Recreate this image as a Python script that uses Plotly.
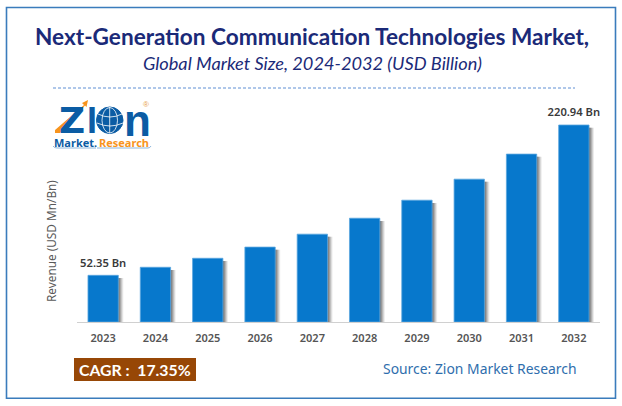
import plotly.graph_objects as go

W, H = 622, 406
years = ["2023","2024","2025","2026","2027","2028","2029","2030","2031","2032"]
revenue = [52.35, 61.4, 71.5, 84.0, 98.5, 116.4, 136.6, 160.2, 188.3, 220.94]
value_labels = ["52.35 Bn","","","","","","","","","220.94 Bn"]
axis_title = "Revenue (USD Mn/Bn)"
title_main = "Next-Generation Communication Technologies Market,"
title_sub = "Global Market Size, 2024-2032 (USD Billion)"
source_text = "Source: Zion Market Research"
cagr_text = "CAGR :  17.35%"

px = lambda x: x / W
py = lambda y: 1 - y / H

BLUE = "#0778CC"
NAVY = "#1B2A78"
LOGO = "#0B5CA4"
ORANGE = "#F7941D"

fig = go.Figure()
# soft drop shadow: layered translucent bars displaced to the right
for off, op in [(5.0, 0.10), (4.0, 0.16), (3.0, 0.22), (2.0, 0.28), (1.0, 0.30)]:
    fig.add_trace(go.Bar(
        x=years, y=[v - 3.0 for v in revenue],
        width=0.58, offset=-0.29 + off / 52.33,
        marker=dict(color=f"rgba(70,70,70,{op})", line_width=0),
        hoverinfo="skip", showlegend=False))
fig.add_trace(go.Bar(
    x=years, y=revenue, width=0.58, offset=-0.29,
    marker=dict(color=BLUE, line=dict(color="#5AA6DE", width=0.8)),
    showlegend=False))
fig.add_trace(go.Scatter(
    x=years, y=revenue, mode="markers+text", text=value_labels, textposition="top center",
    marker=dict(size=8, opacity=0), cliponaxis=False, hoverinfo="skip", showlegend=False,
    textfont=dict(family="Noto Sans", size=11.2, color="#3A3A3A", weight=600)))

shapes = [
    dict(type="rect", xref="paper", yref="paper", x0=px(6.5), x1=px(615.5), y0=py(398.3), y1=py(7.5),
         line=dict(color="#3A7CBC", width=1.6), fillcolor="rgba(0,0,0,0)", layer="below"),
    dict(type="line", xref="paper", yref="paper", x0=px(53), x1=px(575), y0=py(88), y1=py(88),
         line=dict(color="#5F8FD4", width=1, dash="3px,2px")),
    dict(type="rect", xref="paper", yref="paper", x0=px(74), x1=px(196), y0=py(381), y1=py(358),
         fillcolor="#974706", line_width=0),
    # logo globe
    dict(type="circle", xref="paper", yref="paper", x0=px(96.5), x1=px(123), y0=py(133.5), y1=py(107),
         fillcolor=LOGO, line=dict(color=LOGO, width=1)),
    dict(type="circle", xref="paper", yref="paper", x0=px(102), x1=px(117.5), y0=py(133), y1=py(107.5),
         fillcolor="rgba(0,0,0,0)", line=dict(color="white", width=0.8)),
    dict(type="path", xref="paper", yref="paper",
         path=f"M {px(98)} {py(114)} Q {px(110)} {py(120)} {px(122)} {py(114)}",
         line=dict(color="white", width=0.8)),
    dict(type="path", xref="paper", yref="paper",
         path=f"M {px(97)} {py(123)} Q {px(110)} {py(129)} {px(123)} {py(123)}",
         line=dict(color="white", width=0.8)),
    dict(type="line", xref="paper", yref="paper", x0=px(109.7), x1=px(109.7), y0=py(133), y1=py(107),
         line=dict(color="white", width=0.8)),
    # logo arrow
    dict(type="path", xref="paper", yref="paper",
         path=f"M {px(55)} {py(130)} L {px(84)} {py(105)} L {px(82)} {py(103)} L {px(88)} {py(100)} "
              f"L {px(86.5)} {py(107)} L {px(85)} {py(105.5)} L {px(60)} {py(133)} L {px(55)} {py(133)} Z",
         fillcolor=ORANGE, line_width=0, layer="above"),
    # logo underline
    dict(type="path", xref="paper", yref="paper",
         path=f"M {px(53)} {py(146)} Q {px(54)} {py(148)} {px(57)} {py(148)} L {px(96)} {py(148)} "
              f"M {px(97)} {py(148)} L {px(148)} {py(148)} Q {px(150)} {py(148)} {px(151)} {py(146)}",
         line=dict(color="#8FB7DC", width=1)),
]

def note(x, y, text, size, color, family="Lato", weight=None, style=None, anchor="center", angle=0):
    return dict(xref="paper", yref="paper", x=px(x), y=py(y), text=text, showarrow=False,
                xanchor=anchor, yanchor="middle", textangle=angle,
                font=dict(family=family, size=size, color=color, weight=weight, style=style))

annotations = [
    note(312, 36.5, title_main, 22.6, NAVY, weight=700),
    note(312, 63, title_sub, 18.2, NAVY, style="italic"),
    note(51, 241, axis_title, 11.8, "#595959", family="Noto Sans", angle=-90),
    note(135, 369.5, cagr_text, 15.8, "white", weight=700),
    note(480, 368, source_text, 13.9, "#2F6EAD", family="Noto Sans"),
    # logo lettering
    note(72, 120, "Z", 36, LOGO, family="DejaVu Sans", weight=700),
    note(91.5, 120, "I", 36, LOGO, family="Liberation Sans", weight=700),
    note(137.5, 120, "n", 44, LOGO, family="Liberation Sans", weight=700),
    note(146, 104, "®", 8, "#E8A04C", family="Liberation Sans"),
    note(75.5, 142, "Market.", 11, LOGO, family="Noto Sans", weight=700),
    note(124, 142, "Research", 11, ORANGE, family="Noto Sans", weight=700),
]

fig.update_layout(
    width=W, height=H, margin=dict(l=0, r=0, t=0, b=0),
    paper_bgcolor="white", plot_bgcolor="white",
    barmode="overlay", showlegend=False,
    font=dict(family="Noto Sans"),
    shapes=shapes, annotations=annotations,
    xaxis=dict(domain=[px(77), px(600)], type="category", categoryorder="array", categoryarray=years,
               range=[-0.5, 9.5],
               showgrid=False, zeroline=False, showline=True, linecolor="#D0D0D0", linewidth=1.2,
               ticks="", ticklabelstandoff=6, tickfont=dict(family="Noto Sans", size=11, color="#555555", weight=600),
               anchor="y"),
    yaxis=dict(domain=[py(322), py(125 - 98.5)], range=[0, 220.94 * (322 - 26.5) / 197],
               visible=False, fixedrange=True),
)
fig.write_html("out.html", config=dict(displayModeBar=False),
               post_script="document.body.style.margin='0';document.documentElement.style.overflow='hidden';")
